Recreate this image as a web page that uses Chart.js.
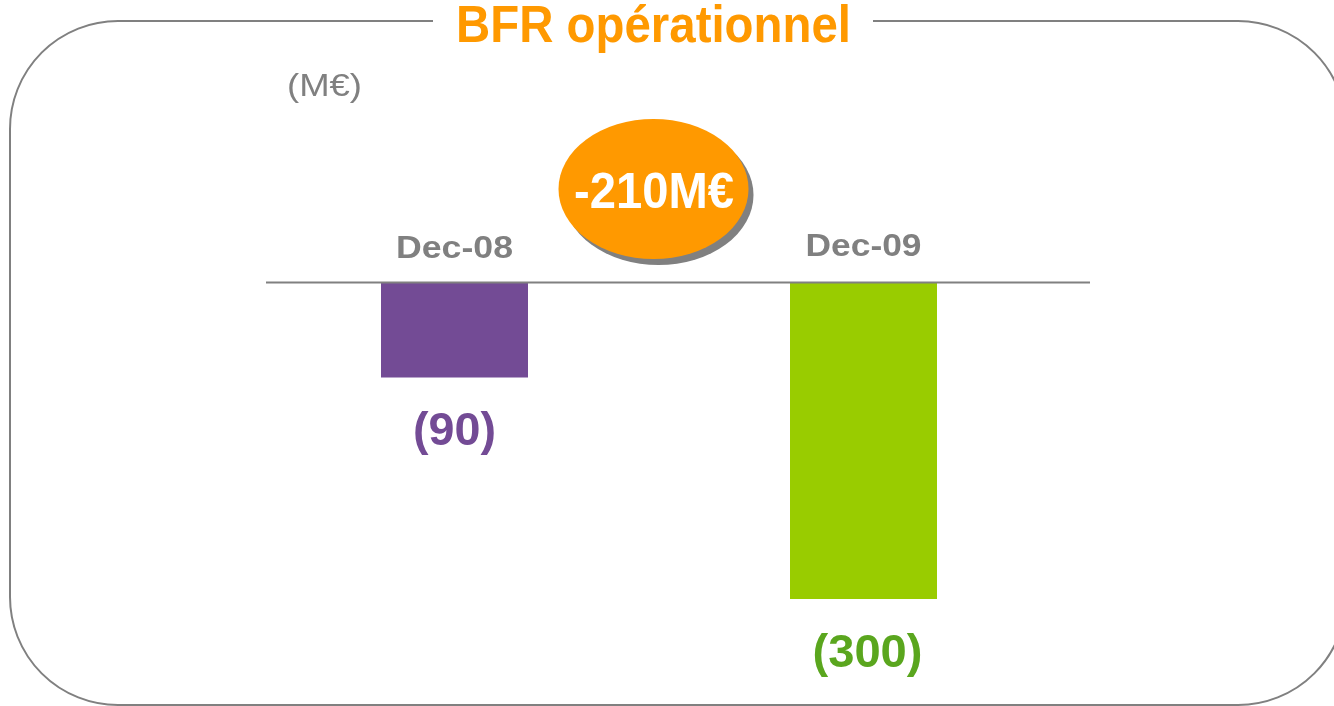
<!DOCTYPE html>
<html>
<head>
<meta charset="utf-8">
<script src="https://cdn.jsdelivr.net/npm/chart.js@4/dist/chart.umd.min.js"></script>
<style>
html,body{margin:0;padding:0;background:#fff;}
#wrap{position:relative;width:1334px;height:706px;}
</style>
</head>
<body>
<div id="wrap"><canvas id="c" width="1334" height="706"></canvas></div>
<script>
const categories = ["Dec-08", "Dec-09"];
const values = [-90, -300];
const valueLabels = ["(90)", "(300)"];
const barColors = ["#734B95", "#99CC00"];
const labelColors = ["#734B95", "#5AA61E"];
const titleText = "BFR opérationnel";
const unitText = "(M€)";
const deltaText = "-210M€";

function drawScaledText(ctx, text, cx, baseline, font, color, targetW) {
  ctx.save();
  ctx.font = font;
  ctx.fillStyle = color;
  ctx.textBaseline = "alphabetic";
  ctx.textAlign = "center";
  const w = ctx.measureText(text).width;
  const sx = targetW ? targetW / w : 1;
  ctx.translate(cx, baseline);
  ctx.scale(sx, 1);
  ctx.fillText(text, 0, 0);
  ctx.restore();
}

const decor = {
  id: "decor",
  beforeDraw(chart) {
    const ctx = chart.ctx;
    ctx.save();
    ctx.fillStyle = "#fff";
    ctx.fillRect(0, 0, chart.width, chart.height);
    const L = 10, T = 21, R = 1346, B = 705, r = 108;
    ctx.strokeStyle = "#808080";
    ctx.lineWidth = 2;
    ctx.beginPath();
    ctx.moveTo(433, T);
    ctx.lineTo(L + r, T);
    ctx.arcTo(L, T, L, T + r, r);
    ctx.lineTo(L, B - r);
    ctx.arcTo(L, B, L + r, B, r);
    ctx.lineTo(R - r, B);
    ctx.arcTo(R, B, R, B - r, r);
    ctx.lineTo(R, T + r);
    ctx.arcTo(R, T, R - r, T, r);
    ctx.lineTo(873, T);
    ctx.stroke();
    ctx.restore();
  },
  afterDatasetsDraw(chart) {
    const ctx = chart.ctx;
    const xs = chart.scales.x, ys = chart.scales.y;
    const y0 = ys.getPixelForValue(0);
    ctx.save();
    ctx.strokeStyle = "#808080";
    ctx.lineWidth = 2;
    ctx.beginPath();
    ctx.moveTo(266, y0);
    ctx.lineTo(1090, y0);
    ctx.stroke();
    ctx.restore();

    drawScaledText(ctx, titleText, 653.5, 42, "bold 52px 'Liberation Sans', Arial, sans-serif", "#FF9900", 395);
    drawScaledText(ctx, unitText, 324.5, 96, "32px 'Liberation Sans', Arial, sans-serif", "#808080", 75);

    const catBase = [258, 256];
    const catW = [117, 116];
    categories.forEach((c, i) => {
      const x = xs.getPixelForValue(i);
      drawScaledText(ctx, c, x, catBase[i], "bold 32px 'Liberation Sans', Arial, sans-serif", "#808080", catW[i]);
    });

    const meta = chart.getDatasetMeta(0);
    const valW = [83, 110];
    meta.data.forEach((bar, i) => {
      const yb = ys.getPixelForValue(values[i]);
      drawScaledText(ctx, valueLabels[i], bar.x + (i === 1 ? 4 : 0), yb + 68, "bold 46px 'Liberation Sans', Arial, sans-serif", labelColors[i], valW[i]);
    });

    const ex = 653.5, ey = 189, rx = 95, ry = 70;
    ctx.save();
    ctx.fillStyle = "#808080";
    ctx.beginPath();
    ctx.ellipse(ex + 5, ey + 6, rx, ry, 0, 0, Math.PI * 2);
    ctx.fill();
    ctx.fillStyle = "#FF9900";
    ctx.beginPath();
    ctx.ellipse(ex, ey, rx, ry, 0, 0, Math.PI * 2);
    ctx.fill();
    ctx.restore();
    drawScaledText(ctx, deltaText, 654, 208, "bold 50px 'Liberation Sans', Arial, sans-serif", "#FFFFFF", 160);
  }
};

new Chart(document.getElementById("c"), {
  type: "bar",
  data: {
    labels: categories,
    datasets: [{
      data: values,
      backgroundColor: barColors,
      borderWidth: 0,
      barPercentage: 0.3594,
      categoryPercentage: 1
    }]
  },
  options: {
    responsive: false,
    animation: false,
    events: [],
    layout: { padding: { left: 250, right: 266, top: 282.5, bottom: 107 } },
    plugins: { legend: { display: false }, tooltip: { enabled: false }, title: { display: false } },
    scales: {
      x: { display: false, offset: true },
      y: { display: false, min: -300, max: 0 }
    }
  },
  plugins: [decor]
});
</script>
</body>
</html>
